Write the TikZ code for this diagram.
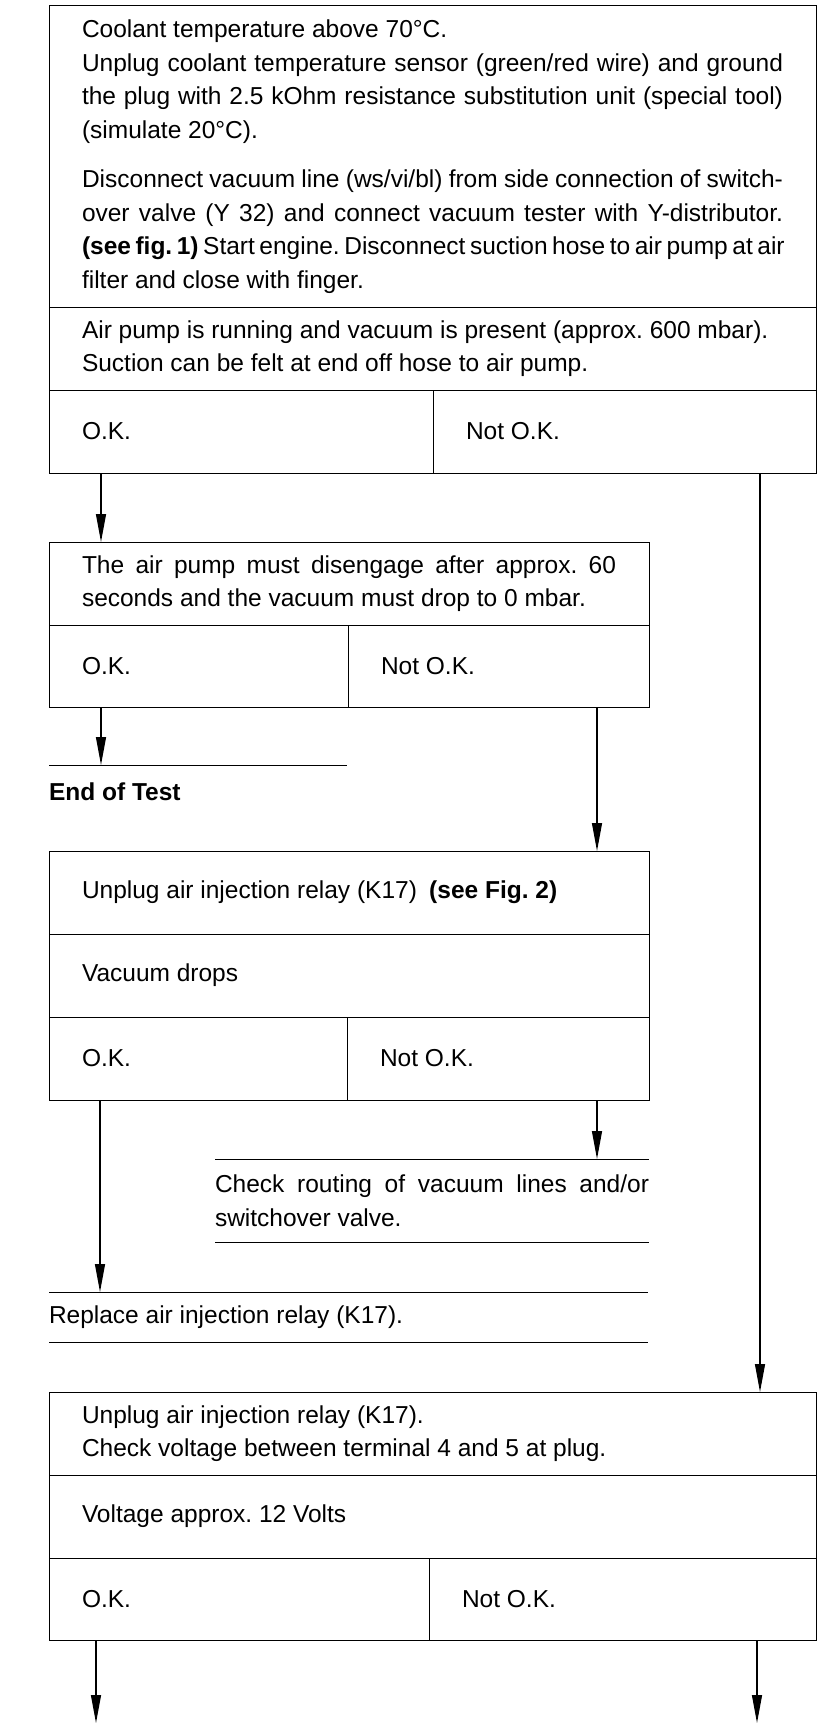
\documentclass[tikz,border=0pt]{standalone}
\usepackage{fontspec}
\setmainfont{Liberation Sans}
\usetikzlibrary{positioning,arrows.meta}
\frenchspacing

\begin{document}
\begin{tikzpicture}[x=1pt, y=-1pt,
    font=\fontsize{24.5pt}{33.5pt}\selectfont,
    cell/.style={draw, line width=1pt, anchor=north west, inner xsep=33pt, inner ysep=0pt, outer sep=0pt, align=justify},
    note/.style={anchor=north west, inner sep=0pt, outer sep=0pt, align=justify},
    rule/.style={line width=1pt},
    flow/.style={line width=1.3pt, -{Triangle[length=28pt, width=10pt]}}]

        \useasboundingbox (0,0) rectangle (832,1734);

        % First test: air pump and vacuum
        \node[cell, text width=701pt, minimum height=301pt] (cond1) at (49,6) {Coolant temperature above 70°C.\\
            Unplug coolant temperature sensor (green/red wire) and ground\linebreak
            the plug with 2.5 kOhm resistance substitution unit (special tool)\linebreak
            (simulate 20°C).\\[16pt]
            Disconnect vacuum line (ws/vi/bl) from side connection of switch-\linebreak
            over valve (Y 32) and connect vacuum tester with Y-distributor.\linebreak
            \makebox[\linewidth][s]{\textbf{(see fig. 1)} Start engine. Disconnect suction hose to air pump at air}\linebreak
            filter and close with finger.};
        \node[cell, text width=701pt, minimum height=83pt] (res1) at (cond1.south west) {Air pump is running and vacuum is present (approx. 600 mbar).\\
            Suction can be felt at end off hose to air pump.};
        \node[cell, text width=318pt, minimum height=83pt] (ok1) at (res1.south west) {O.K.};
        \node[cell, text width=317pt, minimum height=83pt, right=0pt of ok1] (nok1) {Not O.K.};

        % Second test: pump disengages
        \node[cell, text width=534pt, minimum height=83pt] (cond2) at ([yshift=-69pt]ok1.south west) {The air pump must disengage after approx. 60\linebreak
            seconds and the vacuum must drop to 0 mbar.};
        \node[cell, text width=233pt, minimum height=82pt] (ok2) at (cond2.south west) {O.K.};
        \node[cell, text width=235pt, minimum height=82pt, right=0pt of ok2] (nok2) {Not O.K.};

        \node[note, text width=298pt, minimum height=54pt, font=\fontsize{24.5pt}{33.5pt}\selectfont\bfseries] (endtest) at ([yshift=-58pt]ok2.south west) {End of Test};
        \draw[rule] (endtest.north west) -- (endtest.north east);

        % Third test: relay unplugged
        \node[cell, text width=534pt, minimum height=83pt] (cond3) at ([yshift=-144pt]ok2.south west) {Unplug air injection relay (K17)\enspace\textbf{(see Fig. 2)}};
        \node[cell, text width=534pt, minimum height=83pt] (res3) at (cond3.south west) {Vacuum drops};
        \node[cell, text width=232pt, minimum height=83pt] (ok3) at (res3.south west) {O.K.};
        \node[cell, text width=236pt, minimum height=83pt, right=0pt of ok3] (nok3) {Not O.K.};

        \node[note, anchor=north east, text width=434pt, minimum height=83pt] (chk) at ([yshift=-59pt]nok3.south east) {Check routing of vacuum lines and/or\linebreak
            switchover valve.};
        \draw[rule] (chk.north west) -- (chk.north east);
        \draw[rule] (chk.south west) -- (chk.south east);

        \node[note, text width=599pt, minimum height=50pt] (repl) at ([yshift=-192pt]ok3.south west) {Replace air injection relay (K17).};
        \draw[rule] (repl.north west) -- (repl.north east);
        \draw[rule] (repl.south west) -- (repl.south east);

        % Fourth test: relay voltage
        \node[cell, text width=701pt, minimum height=83pt] (cond4) at ([yshift=-50pt]repl.south west) {Unplug air injection relay (K17).\\
            Check voltage between terminal 4 and 5 at plug.};
        \node[cell, text width=701pt, minimum height=83pt] (res4) at (cond4.south west) {Voltage approx. 12 Volts};
        \node[cell, text width=314pt, minimum height=82pt] (ok4) at (res4.south west) {O.K.};
        \node[cell, text width=321pt, minimum height=82pt, right=0pt of ok4] (nok4) {Not O.K.};

        \coordinate (out4a) at ([xshift=47pt, yshift=-83pt]ok4.south west);
        \coordinate (out4b) at ([xshift=-59pt, yshift=-83pt]nok4.south east);

        % Connections
        \draw[flow] ([xshift=52pt]ok1.south west) -- ([xshift=52pt]cond2.north west);
        \draw[flow] ([xshift=-56pt]nok1.south east) -- ([xshift=-56pt]cond4.north east);
        \draw[flow] ([xshift=52pt]ok2.south west) -- ([xshift=52pt]endtest.north west);
        \draw[flow] ([xshift=-52pt]nok2.south east) -- ([xshift=-52pt]cond3.north east);
        \draw[flow] ([xshift=51pt]ok3.south west) -- ([xshift=51pt]repl.north west);
        \draw[flow] ([xshift=-52pt]nok3.south east) -- ([xshift=-52pt]chk.north east);
        \draw[flow] ([xshift=47pt]ok4.south west) -- (out4a);
        \draw[flow] ([xshift=-59pt]nok4.south east) -- (out4b);

    \end{tikzpicture}
\end{document}
